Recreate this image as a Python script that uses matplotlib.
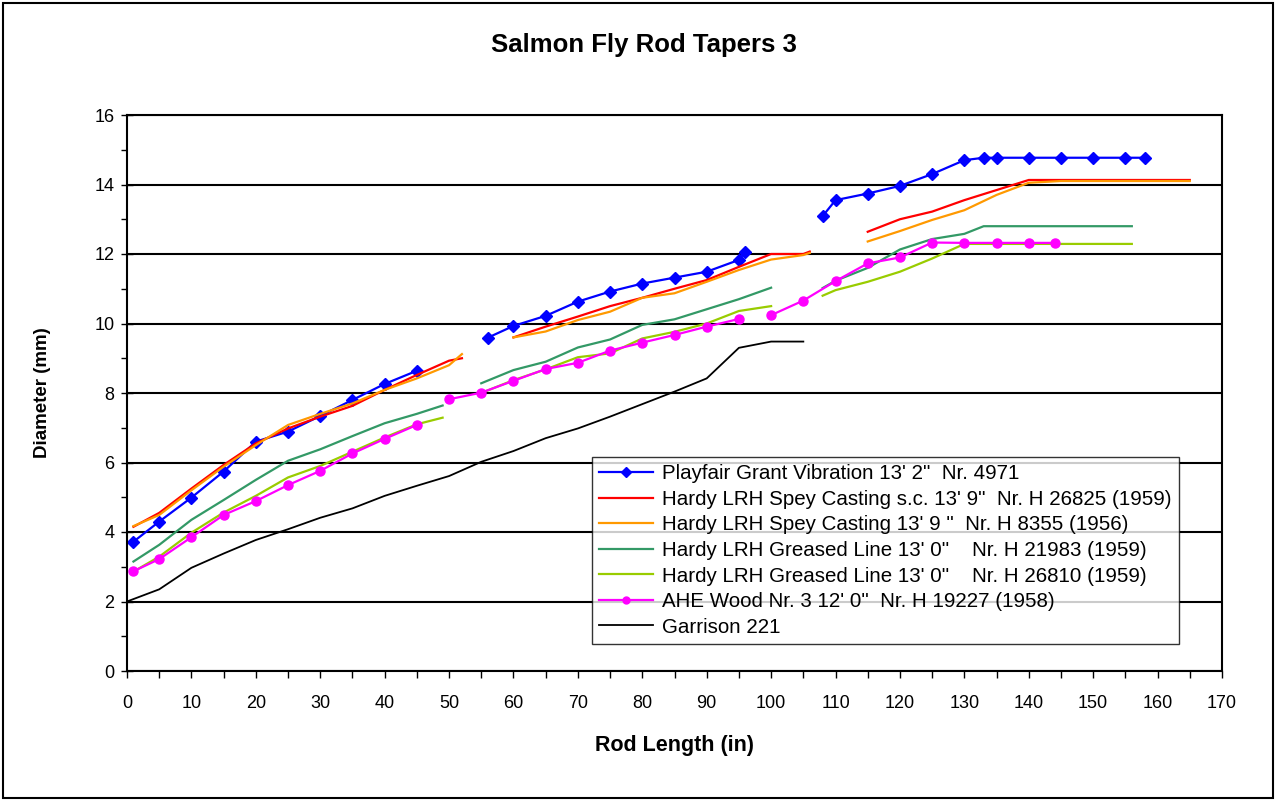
import numpy as np
import matplotlib
matplotlib.use("Agg")
import matplotlib.pyplot as plt
from matplotlib.patches import Rectangle
from matplotlib.ticker import MultipleLocator

plt.rcParams['font.family'] = ['Liberation Sans', 'DejaVu Sans']
nan = np.nan

labels = [
    "Playfair Grant Vibration 13' 2\"  Nr. 4971",
    "Hardy LRH Spey Casting s.c. 13' 9\"  Nr. H 26825 (1959)",
    "Hardy LRH Spey Casting 13' 9 \"  Nr. H 8355 (1956)",
    "Hardy LRH Greased Line 13' 0\"    Nr. H 21983 (1959)",
    "Hardy LRH Greased Line 13' 0\"    Nr. H 26810 (1959)",
    "AHE Wood Nr. 3 12' 0\"  Nr. H 19227 (1958)",
    "Garrison 221",
]

playfair_x = [1, 5, 10, 15, 20, 25, 30, 35, 40, 45, nan, 56, 60, 65, 70, 75, 80, 85, 90, 95, 96, nan,
              108, 110, 115, 120, 125, 130, 133, 135, 140, 145, 150, 155, 158]
playfair_y = [3.72, 4.30, 4.99, 5.74, 6.6, 6.89, 7.34, 7.80, 8.26, 8.64, nan, 9.59, 9.93, 10.22, 10.63,
              10.92, 11.15, 11.32, 11.49, 11.83, 12.07, nan,
              13.09, 13.55, 13.74, 13.96, 14.30, 14.70, 14.77, 14.77, 14.77, 14.77, 14.77, 14.77, 14.77]

spey_x = [1, 5, 10, 15, 20, 25, 30, 35, 40, 45, 50, 52, nan, 60, 65, 70, 75, 80, 85, 90, 95, 100, 105, 106, nan,
          115, 120, 125, 130, 135, 140, 145, 150, 155, 160, 165]
spey_sc_y = [4.15, 4.55, 5.25, 5.93, 6.55, 6.98, 7.32, 7.63, 8.09, 8.52, 8.93, 9.0, nan,
             9.6, 9.91, 10.2, 10.5, 10.74, 11.0, 11.25, 11.63, 12.0, 12.0, 12.07, nan,
             12.64, 13.0, 13.22, 13.55, 13.84, 14.13, 14.13, 14.13, 14.13, 14.13, 14.13]
spey_y = [4.17, 4.49, 5.2, 5.88, 6.5, 7.08, 7.4, 7.7, 8.09, 8.42, 8.8, 9.12, nan,
          9.6, 9.77, 10.1, 10.34, 10.74, 10.87, 11.2, 11.54, 11.84, 11.97, 12.03, nan,
          12.36, 12.66, 12.98, 13.26, 13.7, 14.05, 14.1, 14.1, 14.1, 14.1, 14.1]

gl1_x = [1, 5, 10, 15, 20, 25, 30, 35, 40, 45, 49, nan, 55, 60, 65, 70, 75, 80, 85, 90, 95, 100, nan,
         108, 110, 115, 120, 125, 130, 133, 135, 140, 145, 150, 156]
gl1_y = [3.15, 3.63, 4.35, 4.92, 5.5, 6.05, 6.38, 6.76, 7.13, 7.4, 7.64, nan,
         8.28, 8.66, 8.9, 9.31, 9.54, 9.96, 10.12, 10.41, 10.7, 11.03, nan,
         11.02, 11.23, 11.6, 12.13, 12.43, 12.58, 12.8, 12.8, 12.8, 12.8, 12.8, 12.8]

gl2_x = [1, 5, 10, 15, 20, 25, 30, 35, 40, 45, 49, nan, 55, 60, 65, 70, 75, 80, 85, 90, 95, 100, nan,
         108, 110, 115, 120, 125, 130, 135, 140, 145, 150, 156]
gl2_y = [2.86, 3.29, 3.98, 4.56, 5.04, 5.57, 5.9, 6.31, 6.72, 7.1, 7.29, nan,
         8.0, 8.37, 8.68, 9.03, 9.14, 9.57, 9.76, 10.0, 10.36, 10.5, nan,
         10.8, 10.96, 11.2, 11.49, 11.87, 12.29, 12.29, 12.29, 12.29, 12.29, 12.29]

wood_x = [1, 5, 10, 15, 20, 25, 30, 35, 40, 45, nan, 50, 55, 60, 65, 70, 75, 80, 85, 90, 95, nan,
          100, 105, 110, 115, 120, 125, 130, 135, 140, 144]
wood_y = [2.87, 3.22, 3.85, 4.49, 4.89, 5.35, 5.76, 6.26, 6.68, 7.08, nan,
          7.82, 8.01, 8.35, 8.69, 8.87, 9.22, 9.45, 9.67, 9.91, 10.13, nan,
          10.24, 10.66, 11.22, 11.73, 11.9, 12.33, 12.32, 12.32, 12.32, 12.32]

garrison_x = [0, 5, 10, 15, 20, 25, 30, 35, 40, 45, 50, 55, 60, 65, 70, 75, 80, 85, 90, 95, 100, 105]
garrison_y = [2.0, 2.35, 2.97, 3.38, 3.77, 4.08, 4.41, 4.68, 5.04, 5.33, 5.61, 6.02, 6.33, 6.7,
              6.98, 7.32, 7.68, 8.04, 8.42, 9.3, 9.48, 9.48]

fig = plt.figure(figsize=(12.76, 8.01), dpi=100)
ax = fig.add_axes([127/1276, 1 - 671/801, (1222-127)/1276, (671-115)/801])

fig.patches.append(Rectangle((3/1276, 3/801), 1270/1276, 795/801, transform=fig.transFigure,
                             fill=False, edgecolor='black', linewidth=1.5))

lw = 1.6
ax.plot(playfair_x, playfair_y, color='#0000FF', lw=lw, marker='D', ms=6.5, label=labels[0])
ax.plot(spey_x, spey_sc_y, color='#FF0000', lw=lw, label=labels[1])
ax.plot(spey_x, spey_y, color='#FF9900', lw=lw, label=labels[2])
ax.plot(gl1_x, gl1_y, color='#339966', lw=lw, label=labels[3])
ax.plot(gl2_x, gl2_y, color='#99CC00', lw=lw, label=labels[4])
ax.plot(wood_x, wood_y, color='#FF00FF', lw=lw, marker='o', ms=6.5, label=labels[5])
ax.plot(garrison_x, garrison_y, color='black', lw=1.3, label=labels[6])

ax.set_xlim(0, 170)
ax.set_ylim(0, 16)
ax.xaxis.set_major_locator(MultipleLocator(10))
ax.xaxis.set_minor_locator(MultipleLocator(5))
ax.yaxis.set_major_locator(MultipleLocator(2))
ax.yaxis.set_minor_locator(MultipleLocator(1))
ax.tick_params(axis='x', which='both', direction='out', length=5, width=1, labelsize=13, pad=12)
ax.tick_params(axis='y', which='major', direction='inout', length=8, width=1, labelsize=13, pad=5)
ax.tick_params(axis='y', which='minor', direction='out', length=4, width=1)
ax.yaxis.grid(True, which='major', color='black', lw=1.5)
ax.set_axisbelow(True)
for s in ax.spines.values():
    s.set_color('black')
    s.set_linewidth(1.5)

ax.set_xlabel('Rod Length (in)', fontsize=15.5, fontweight='bold', labelpad=17)
ax.set_ylabel('Diameter (mm)', fontsize=13.5, fontweight='bold', labelpad=31)
fig.text(644/1276, 1 - 45/801, 'Salmon Fly Rod Tapers 3', ha='center', va='center',
         fontsize=18.5, fontweight='bold')

leg = ax.legend(loc='upper left', bbox_to_anchor=((592-127)/1095, (671-457)/556),
                fontsize=14.8, frameon=True, fancybox=False, edgecolor='black',
                handlelength=2.6, borderpad=0.35, labelspacing=0.32, handletextpad=0.45,
                borderaxespad=0)
leg.get_frame().set_linewidth(1.0)
for h in leg.legend_handles:
    h.set_markersize(5)

fig.savefig('out.png', dpi=100, facecolor='white')
